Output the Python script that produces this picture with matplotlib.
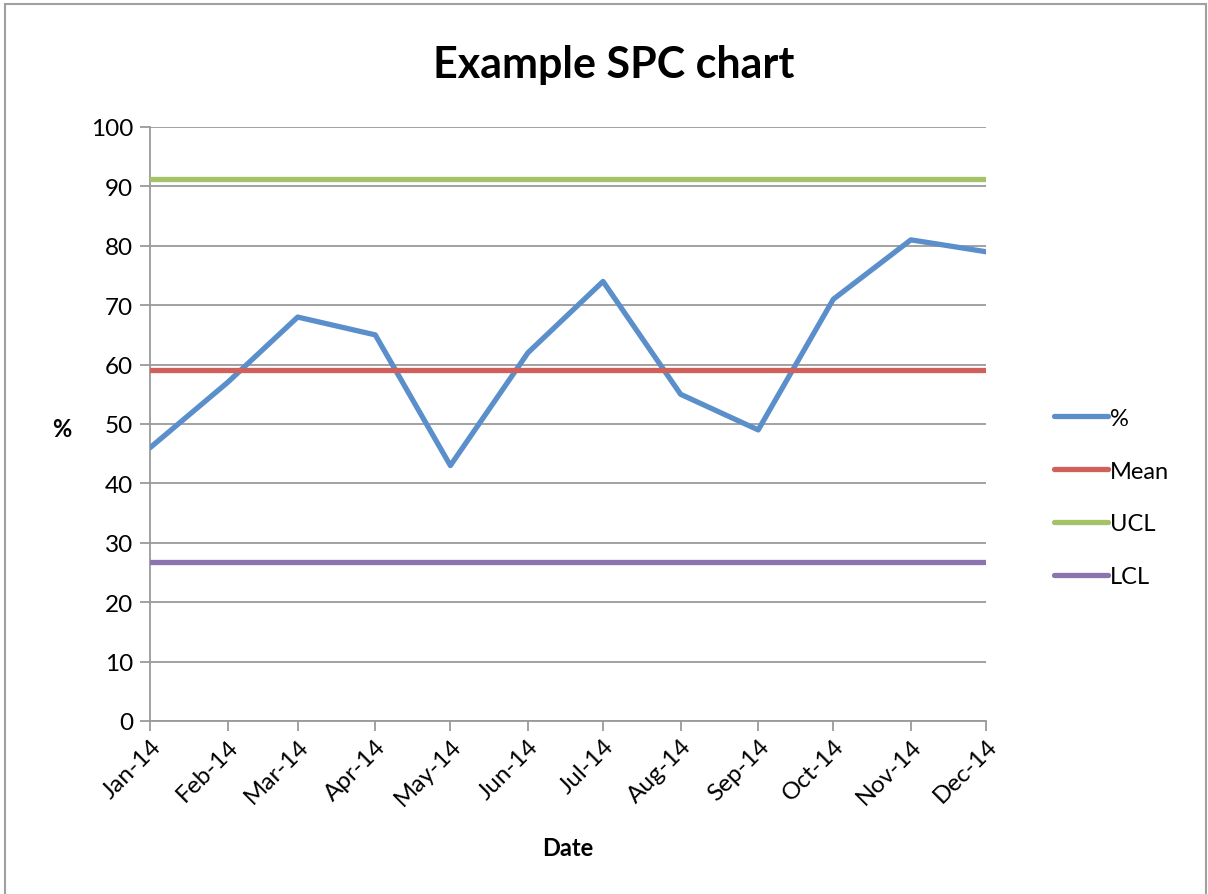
import matplotlib.pyplot as plt
import matplotlib.dates as mdates
import pandas as pd
from matplotlib.patches import Rectangle

plt.rcParams['font.family'] = ['Lato', 'DejaVu Sans']

months = pd.date_range("2014-01-01", periods=12, freq="MS")
pct = [46, 57, 68, 65, 43, 62, 74, 55, 49, 71, 81, 79]
mean = [59.1] * 12
ucl = [91.3] * 12
lcl = [26.8] * 12

colors = {"%": "#5B8FCB", "Mean": "#D0605A", "UCL": "#A5C268", "LCL": "#8C74AF"}
grid_col = "#9A9A9A"

fig = plt.figure(figsize=(12.08, 8.95), dpi=100)
ax = fig.add_axes([0.1242, 0.1933, 0.692, 0.6637])

# outer chart border
fig.patches.append(Rectangle((0.004, -0.01), 0.994, 1.004, transform=fig.transFigure,
                             fill=False, edgecolor="#A0A0A0", linewidth=1.5))

for name, vals in [("%", pct), ("Mean", mean), ("UCL", ucl), ("LCL", lcl)]:
    ax.plot(months, vals, color=colors[name], linewidth=3.8, label=name,
            solid_capstyle="round", solid_joinstyle="round", zorder=3)

ax.set_ylim(0, 100)
ax.set_yticks(range(0, 101, 10))
ax.set_xlim(months[0], months[-1])
ax.set_xticks(months)
ax.xaxis.set_major_formatter(mdates.DateFormatter("%b-%y"))
ax.grid(axis="y", color=grid_col, linewidth=1.3, zorder=1)

for s in ["top", "right"]:
    ax.spines[s].set_visible(False)
for s in ["left", "bottom"]:
    ax.spines[s].set_color(grid_col)
    ax.spines[s].set_linewidth(1.3)

ax.tick_params(axis="both", colors=grid_col, length=7, width=1.3, labelcolor="black",
               labelsize=17.5)
ax.tick_params(axis="y", pad=5)
ax.tick_params(axis="x", pad=3)
plt.setp(ax.get_xticklabels(), rotation=45, ha="right", rotation_mode="anchor")

fig.text(0.5078, 0.927, "Example SPC chart", ha="center", va="center",
         fontsize=31, fontweight="bold")
fig.text(0.0513, 0.520, "%", ha="center", va="center", fontsize=17, fontweight="bold")
fig.text(0.470, 0.052, "Date", ha="center", va="center", fontsize=17, fontweight="bold")

fig.legend(loc="center left", bbox_to_anchor=(0.855, 0.443), frameon=False,
           fontsize=17, handlelength=2.3, handletextpad=0.05, labelspacing=1.35)

fig.savefig("out.png", dpi=100)
